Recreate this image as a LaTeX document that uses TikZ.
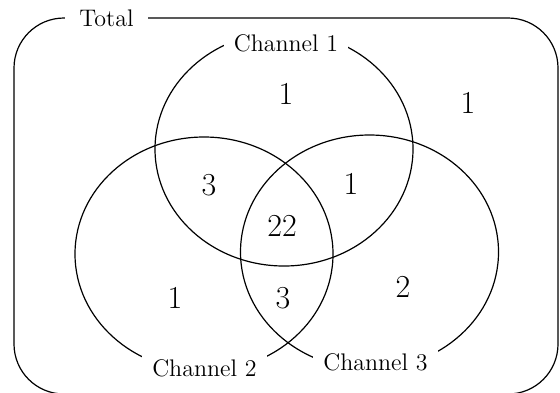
\documentclass[tikz,border=0pt]{standalone}
\usepackage{tikz}
\usetikzlibrary{shapes.geometric,positioning}

\begin{document}
\begin{tikzpicture}[x=0.5pt,y=-0.5pt,
  line width=0.6pt,
  frame/.style={draw,rectangle,rounded corners=25pt,minimum width=272pt,minimum height=188pt},
  set/.style={draw,ellipse,inner sep=0pt,minimum width=129pt,minimum height=117pt},
  tag/.style={fill=white,inner xsep=5pt,minimum height=14pt,font=\fontsize{12}{14}\selectfont},
  num/.style={font=\fontsize{16}{18}\selectfont},
]
  \useasboundingbox (0,0) rectangle (560,392);

  % outer box and the three channels
  \node[frame] (total) at (286,206) {};
  \node[set] (ch1) at (284,149) {};
  \node[set] (ch2) at (204,254) {};
  \node[set] (ch3) at (369.5,252) {};

  % labels cut into the outlines
  \node[tag,inner xsep=7pt] (ltotal) at (106.5,18) {Total};
  \node[tag] (lch1) at (286,43) {Channel 1};
  \node[tag] (lch2) at (204.5,368) {Channel 2};
  \node[tag] (lch3) at (375.5,362) {Channel 3};

  % counts
  \foreach \i/\val/\x/\y in {1/1/286/94,2/1/468/103,3/3/209/185,4/1/351/184,
                             5/22/282/226,6/1/175/298,7/3/283/298,8/2/403/287} {
    \node[num] (r\i) at (\x,\y) {\val};
  }
\end{tikzpicture}
\end{document}
